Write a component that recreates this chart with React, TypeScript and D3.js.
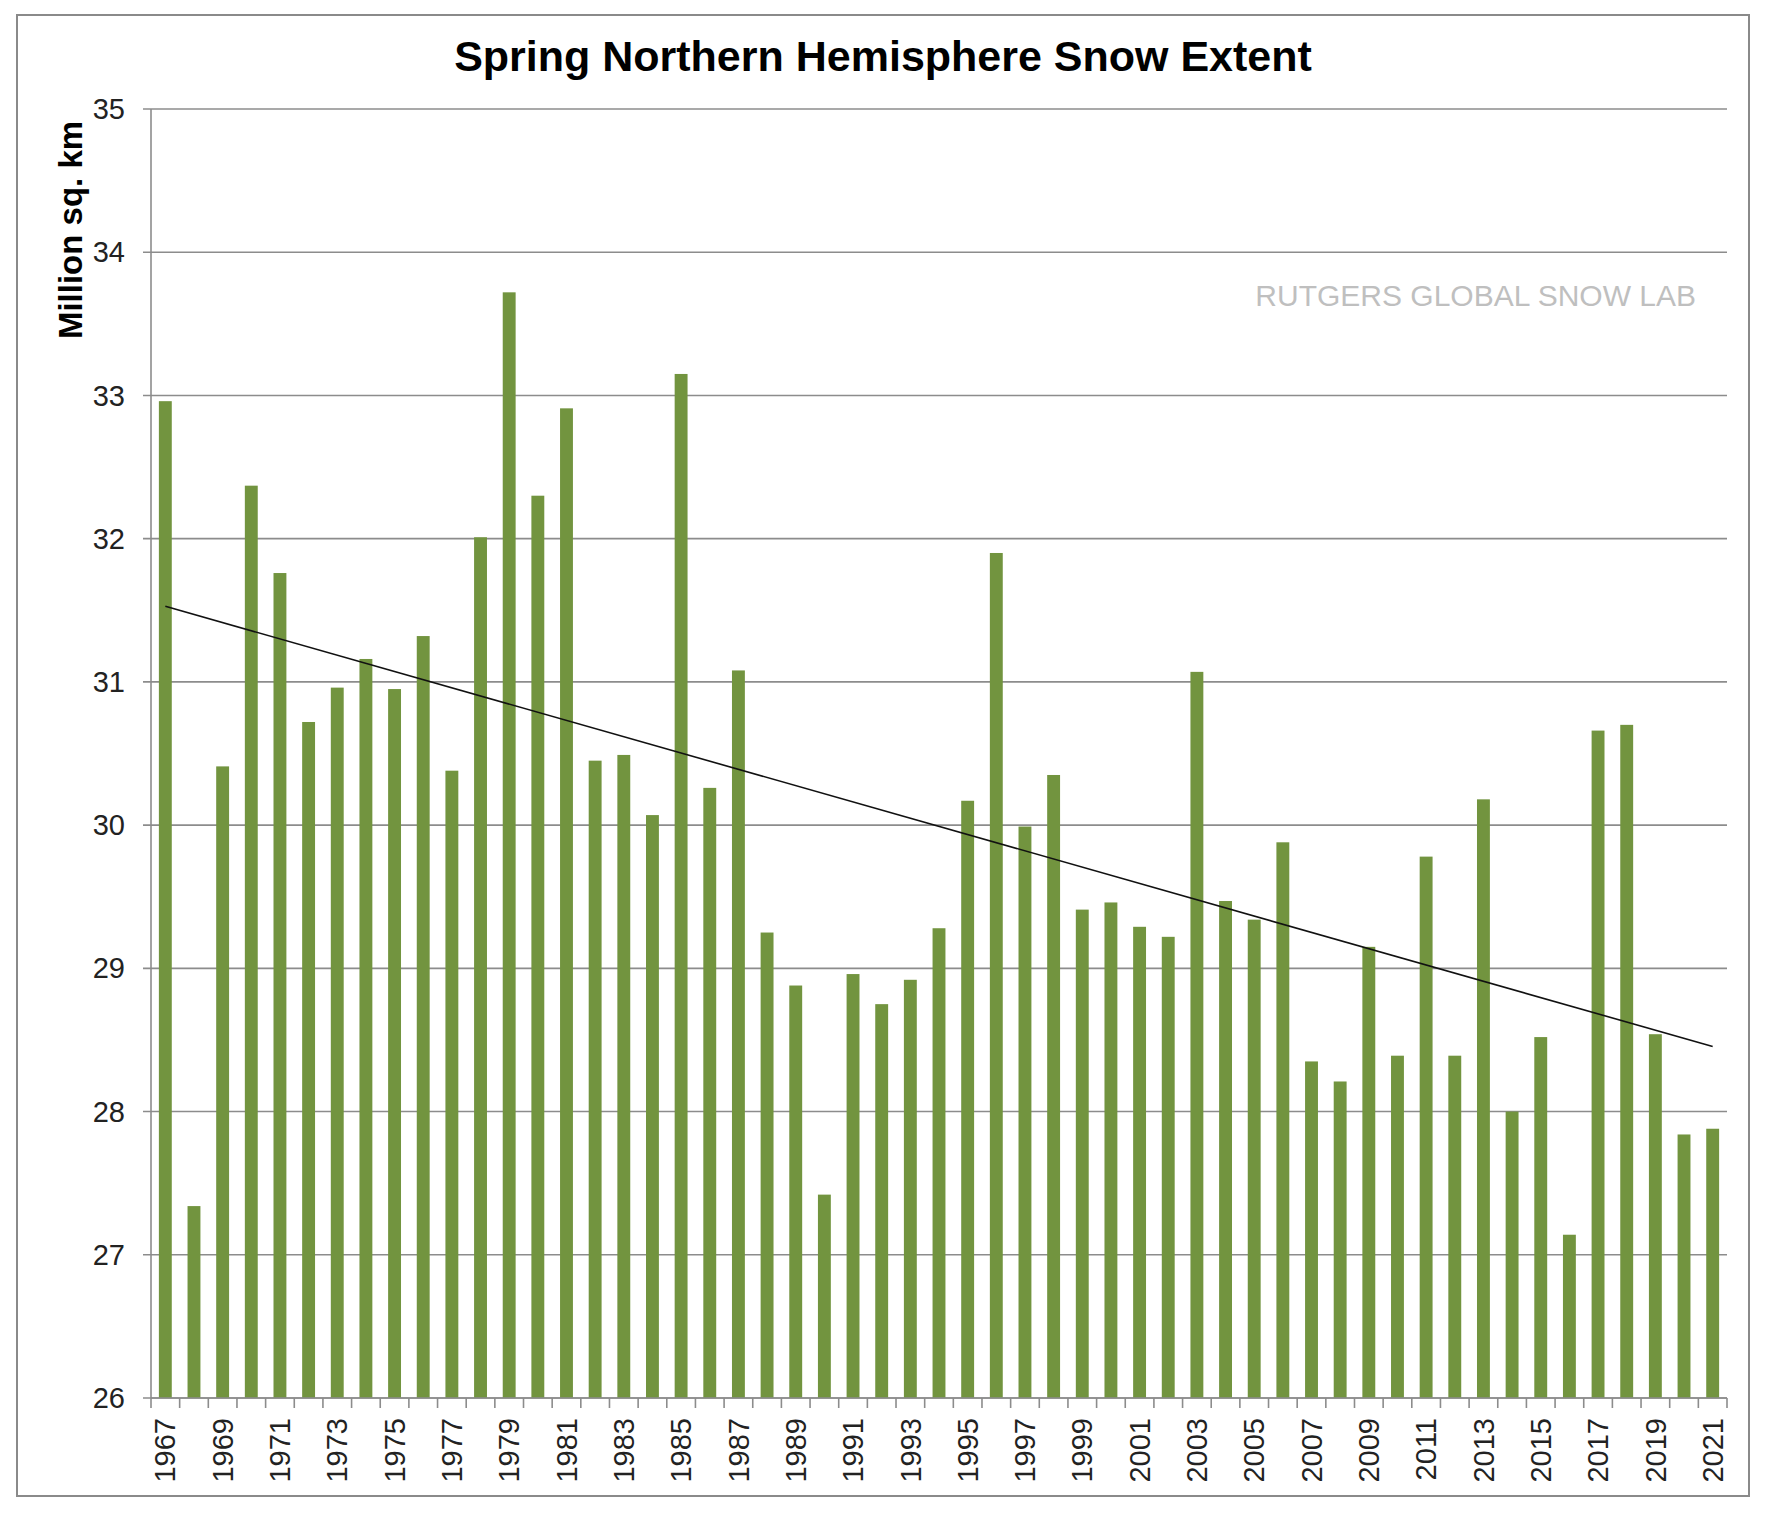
import React from 'react';
import * as d3 from 'd3';

const years = d3.range(1967, 2022).map(String);

// spring (MAM) NH snow extent, million sq km
const extent = [
  32.96, 27.34, 30.41, 32.37, 31.76, 30.72, 30.96, 31.16, 30.95, 31.32,
  30.38, 32.01, 33.72, 32.30, 32.91, 30.45, 30.49, 30.07, 33.15, 30.26,
  31.08, 29.25, 28.88, 27.42, 28.96, 28.75, 28.92, 29.28, 30.17, 31.90,
  29.99, 30.35, 29.41, 29.46, 29.29, 29.22, 31.07, 29.47, 29.34, 29.88,
  28.35, 28.21, 29.15, 28.39, 29.78, 28.39, 30.18, 28.00, 28.52, 27.14,
  30.66, 30.70, 28.54, 27.84, 27.88,
];

const yTicks = [26, 27, 28, 29, 30, 31, 32, 33, 34, 35];

const title = 'Spring Northern Hemisphere Snow Extent';
const yLabel = 'Million sq. km';
const credit = 'RUTGERS GLOBAL SNOW LAB';

const W = 1766, H = 1516;
const left = 151, right = 1727, top = 109, bottom = 1398;
const font = '"Liberation Sans", Arial, Helvetica, sans-serif';
const green = '#72943f';
const grid = '#8c8c8c';

export default function App() {
  const x = d3.scaleBand().domain(years).range([left, right]).padding(0);
  const y = d3.scaleLinear().domain([26, 35]).range([bottom, top]);
  const bw = x.bandwidth() * 0.45;

  // least squares trend, same as Excel's linear trendline
  const idx = extent.map((_, i) => i);
  const mx = d3.mean(idx), my = d3.mean(extent);
  const slope = d3.sum(idx, i => (i - mx) * (extent[i] - my)) / d3.sum(idx, i => (i - mx) ** 2);
  const icpt = my - slope * mx;
  const trend = d3.line().x(d => x(years[d]) + x.bandwidth() / 2).y(d => y(icpt + slope * d));

  const boundaries = d3.range(years.length + 1).map(i => left + i * x.step());

  return (
    <div style={{ position: 'absolute', left: 0, top: 0 }}>
      <svg width={W} height={H} style={{ display: 'block', background: '#fff' }}>
        <rect x={17} y={15} width={1732} height={1481} fill="#fff" stroke="#8a8a8a" strokeWidth={2} />

        <text x={883} y={71} textAnchor="middle" fontFamily={font} fontWeight="bold" fontSize={43} fill="#000">{title}</text>

        {/* gridlines + y ticks */}
        {yTicks.map(t => (
          <g key={t}>
            <line x1={left - 8} x2={right} y1={y(t)} y2={y(t)} stroke={grid} strokeWidth={1.6} />
            <text x={125} y={y(t)} dy="0.35em" textAnchor="end" fontFamily={font} fontSize={29} fill="#222">{t}</text>
          </g>
        ))}

        <text x={1696} y={306} textAnchor="end" fontFamily={font} fontSize={30} fill="#bfbfbf">{credit}</text>

        {/* bars */}
        {years.map((yr, i) => (
          <rect key={yr} x={x(yr) + (x.bandwidth() - bw) / 2} y={y(extent[i])}
            width={bw} height={bottom - y(extent[i])} fill={green} />
        ))}

        <path d={trend([0, extent.length - 1])} fill="none" stroke="#111" strokeWidth={1.6} />

        {/* axes */}
        <line x1={left} x2={left} y1={top} y2={bottom} stroke={grid} strokeWidth={1.6} />
        <line x1={left} x2={right} y1={bottom} y2={bottom} stroke={grid} strokeWidth={1.6} />
        {boundaries.map((bx, i) => (
          <line key={i} x1={bx} x2={bx} y1={bottom} y2={bottom + 10} stroke={grid} strokeWidth={1.6} />
        ))}

        {years.map((yr, i) => i % 2 === 0 && (
          <text key={yr} transform={`translate(${x(yr) + x.bandwidth() / 2},${bottom + 20}) rotate(-90)`}
            dy="0.35em" textAnchor="end" fontFamily={font} fontSize={29} fill="#222">{yr}</text>
        ))}

        <text transform={`translate(82,230) rotate(-90)`} textAnchor="middle" fontFamily={font}
          fontWeight="bold" fontSize={33} fill="#000">{yLabel}</text>
      </svg>
    </div>
  );
}
